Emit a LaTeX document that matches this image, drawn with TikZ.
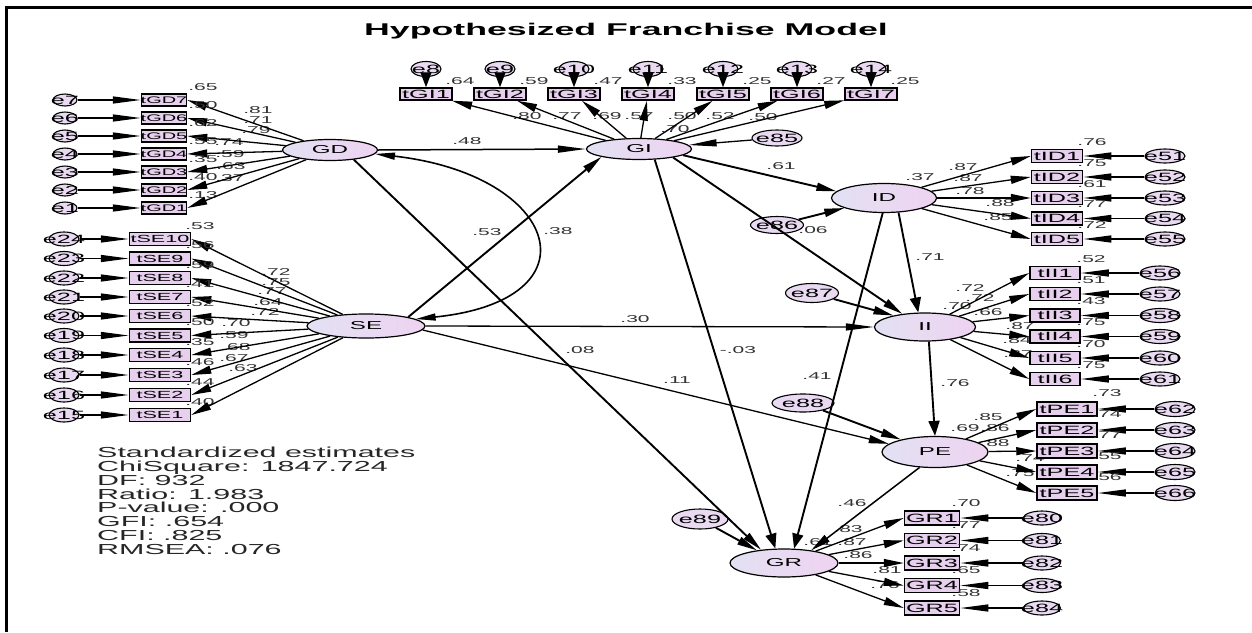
\documentclass[tikz,border=0pt]{standalone}
\usepackage{fontspec}
\setmainfont{Liberation Sans}[FakeStretch=2.1]
\usetikzlibrary{shapes.geometric,arrows.meta}
\newcommand\ztxt[1]{\raisebox{-0.36em}[0pt][0pt]{\makebox[0pt]{#1}}}
\definecolor{lavL}{HTML}{E3E1F3}
\definecolor{lavR}{HTML}{EED3F1}
\definecolor{boxfill}{HTML}{E7D0EE}
\definecolor{errfill}{HTML}{E9DAF2}
\definecolor{labc}{HTML}{333333}
\begin{document}
\begin{tikzpicture}[x=1pt,y=-1pt,
  lat/.style={ellipse, draw, line width=1.2pt, inner sep=0pt, left color=lavL, right color=lavR, font=\fontsize{11.5}{11.5}\selectfont},
  ind/.style={rectangle, draw, line width=1.5pt, fill=boxfill, inner sep=0pt, font=\fontsize{12}{12}\selectfont},
  err/.style={ellipse, draw, line width=1.1pt, fill=errfill, inner sep=0pt, font=\fontsize{12}{12}\selectfont},
  lab/.style={inner sep=0pt, text=labc, font=\fontsize{10}{10}\selectfont},
  a/.style={line width=1.3pt, -{Triangle[length=20pt,width=8pt]}},
  ah/.style={line width=1.3pt, -{Triangle[length=28pt,width=7pt]}},
  av/.style={line width=1.3pt, -{Triangle[length=15pt,width=11pt]}},
  strong/.style={line width=1.9pt}
]
\useasboundingbox (0,0) rectangle (1252,632);
\draw[line width=3.3pt] (6.7,632) -- (6.7,7.7) -- (1252,7.7);

\node[font=\bfseries\fontsize{17}{17}\selectfont] (title) at (626,31) {Hypothesized Franchise Model};

% ---------- path labels (drawn first) ----------
\node[lab] (l1) at (467,141) {.48};
\node[lab] (l2) at (487,232) {.53};
\node[lab] (l3) at (558,231) {.38};
\node[lab] (l4) at (781,166) {.61};
\node[lab] (l5) at (813,230) {.06};
\node[lab] (l6) at (635,319) {.30};
\node[lab] (l7) at (677,380) {.11};
\node[lab] (l8) at (580,350) {.08};
\node[lab] (l9) at (738,350) {-.03};
\node[lab] (l10) at (930,257) {.71};
\node[lab] (l11) at (817,376) {.41};
\node[lab] (l12) at (955,383) {.76};
\node[lab] (l13) at (852,503) {.46};
% squared multiple correlations of latents
\node[lab] (sGI) at (675,129) {.70};
\node[lab] (sID) at (920,177) {.37};
\node[lab] (sII) at (957,306) {.70};
\node[lab] (sPE) at (965,428) {.69};
\node[lab] (sGR) at (818,542) {.61};
% loading labels GD
\foreach \xx/\yy/\vv [count=\k] in {258/110/.81, 258/120/.71, 256/130/.79, 229/142/.74, 230/154/.59, 231/166/.63, 230/178/.37}
  \node[lab] (lGD\k) at (\xx,\yy) {\vv};
% loading labels SE
\foreach \xx/\yy/\vv [count=\k] in {276/272/.72, 276/282/.75, 272/291/.77, 268/302/.64, 265/312/.72, 236/323/.70, 234/335/.59, 236/347/.68, 234/358/.67, 243/368/.63}
  \node[lab] (lSE\k) at (\xx,\yy) {\vv};
% loading labels GI
\foreach \xx/\yy/\vv [count=\k] in {527/116/.80, 567/116/.77, 639/116/.57, 607/116/.69, 682/116/.50, 720/116/.52, 763/117/.50}
  \node[lab] (lGI\k) at (\xx,\yy) {\vv};
% loading labels ID
\foreach \xx/\yy/\vv [count=\k] in {963/167/.87, 968/178/.87, 970/191/.78, 1000/203/.88, 998/217/.85}
  \node[lab] (lID\k) at (\xx,\yy) {\vv};
% loading labels II
\foreach \xx/\yy/\vv [count=\k] in {970/288/.72, 980/298/.72, 988/312/.66, 1020/326/.87, 1017/340/.84, 1018/354/.87}
  \node[lab] (lII\k) at (\xx,\yy) {\vv};
% loading labels PE
\foreach \xx/\yy/\vv [count=\k] in {988/417/.85, 995/428/.86, 995/443/.88, 1030/458/.74, 1020/473/.75}
  \node[lab] (lPE\k) at (\xx,\yy) {\vv};
% loading labels GR
\foreach \xx/\yy/\vv [count=\k] in {848/529/.83, 852/542/.87, 858/555/.86, 887/570/.81, 885/585/.76}
  \node[lab] (lGR\k) at (\xx,\yy) {\vv};

% ---------- latent variables ----------
\node[lat, minimum width=95pt, minimum height=21pt] (GD) at (330,150) {GD};
\node[lat, minimum width=118pt, minimum height=24pt] (SE) at (366,326) {SE};
\node[lat, minimum width=105pt, minimum height=21pt] (GI) at (639,149) {GI};
\node[lat, minimum width=105pt, minimum height=29pt] (ID) at (884,198) {ID};
\node[lat, minimum width=101pt, minimum height=28pt] (II) at (925,327) {II};
\node[lat, minimum width=106pt, minimum height=31pt] (PE) at (935,452) {PE};
\node[lat, minimum width=108pt, minimum height=28pt] (GR) at (784,563) {GR};

% structural disturbances
\node[err, minimum width=50pt, minimum height=16pt] (e85) at (777,138) {\ztxt{e85}};
\node[err, minimum width=53pt, minimum height=17pt] (e86) at (777,225) {\ztxt{e86}};
\node[err, minimum width=53pt, minimum height=19pt] (e87) at (812,293) {\ztxt{e87}};
\node[err, minimum width=62pt, minimum height=18pt] (e88) at (803,403) {\ztxt{e88}};
\node[err, minimum width=56pt, minimum height=20pt] (e89) at (700,519) {\ztxt{e89}};

% ---------- GD indicators ----------
\foreach \nn/\yy/\rv in {7/100/.65, 6/118/.50, 5/136/.62, 4/154/.55, 3/172/.35, 2/190/.40, 1/208/.13} {
  \node[lab] (rGD\nn) at (203,{\yy-13}) {\rv};
  \node[ind, minimum width=45pt, minimum height=12pt, font=\fontsize{9.5}{9.5}\selectfont] (tGD\nn) at (164,\yy) {\ztxt{tGD\nn}};
  \node[err, minimum width=24pt, minimum height=12pt] (e\nn) at (65,\yy) {\ztxt{e\nn}};
  \draw[ah] (e\nn) -- (tGD\nn);
  \draw[a] (GD) -- (tGD\nn.east);
}

% ---------- SE indicators ----------
\foreach \nn/\ee/\yy/\rv in {10/24/239/.53, 9/23/258.5/.56, 8/22/278/.59, 7/21/297/.41, 6/20/316/.52, 5/19/335.5/.50, 4/18/355/.35, 3/17/375/.46, 2/16/395/.44, 1/15/415/.40} {
  \node[lab] (rSE\nn) at (200,{\yy-13}) {\rv};
  \node[ind, minimum width=61pt, minimum height=13pt, font=\fontsize{10.3}{10.3}\selectfont] (tSE\nn) at (160,\yy) {\ztxt{tSE\nn}};
  \node[err, minimum width=30pt, minimum height=14pt] (e\ee) at (64,\yy) {\ztxt{e\ee}};
  \draw[ah] (e\ee) -- (tSE\nn);
  \draw[a] (SE) -- (tSE\nn.east);
}

% ---------- GI indicators ----------
\foreach \nn/\xx/\ee/\rv in {1/426/8/.64, 2/500/9/.59, 3/574/10/.47, 4/648/11/.33, 5/723/12/.25, 6/797/13/.27, 7/871/14/.25} {
  \node[lab] (rGI\nn) at ({\xx+34},81) {\rv};
  \node[ind, minimum width=52pt, minimum height=12pt] (tGI\nn) at (\xx,94) {\ztxt{tGI\nn}};
  \node[err, minimum width=30pt, minimum height=15pt] (e\ee) at (\xx,69) {\ztxt{e\ee}};
  \draw[av] (e\ee) -- (tGI\nn);
  \draw[a] (GI) -- (tGI\nn);
}

% ---------- ID indicators ----------
\foreach \nn/\yy/\ee/\rv in {1/156/51/.76, 2/177/52/.75, 3/198/53/.61, 4/218.5/54/.77, 5/239/55/.72} {
  \node[lab] (rID\nn) at (1092,{\yy-14}) {\rv};
  \node[ind, minimum width=51pt, minimum height=13pt] (tID\nn) at (1057,\yy) {\ztxt{tID\nn}};
  \node[err, minimum width=40pt, minimum height=14pt] (e\ee) at (1165,\yy) {\ztxt{e\ee}};
  \draw[ah] (e\ee) -- (tID\nn.east);
  \draw[a] (ID) -- (tID\nn.west);
}

% ---------- II indicators ----------
\foreach \nn/\yy/\ee/\rv in {1/273/56/.52, 2/294/57/.51, 3/315.5/58/.43, 4/336.5/59/.75, 5/358/60/.70, 6/379/61/.75} {
  \node[lab] (rII\nn) at (1091,{\yy-14}) {\rv};
  \node[ind, minimum width=50pt, minimum height=13pt] (tII\nn) at (1055,\yy) {\ztxt{tII\nn}};
  \node[err, minimum width=40pt, minimum height=14pt] (e\ee) at (1160,\yy) {\ztxt{e\ee}};
  \draw[ah] (e\ee) -- (tII\nn.east);
  \draw[a] (II) -- (tII\nn.west);
}

% ---------- PE indicators ----------
\foreach \nn/\yy/\ee/\rv in {1/409/62/.73, 2/430/63/.74, 3/451/64/.77, 4/472/65/.55, 5/493/66/.56} {
  \node[lab] (rPE\nn) at (1107,{\yy-16}) {\rv};
  \node[ind, minimum width=60pt, minimum height=14pt] (tPE\nn) at (1067,\yy) {\ztxt{tPE\nn}};
  \node[err, minimum width=40pt, minimum height=15pt] (e\ee) at (1175,\yy) {\ztxt{e\ee}};
  \draw[ah] (e\ee) -- (tPE\nn.east);
  \draw[a] (PE) -- (tPE\nn.west);
}

% ---------- GR indicators ----------
\foreach \nn/\yy/\ee/\rv in {1/518/80/.70, 2/540.5/81/.77, 3/563/82/.74, 4/585.5/83/.65, 5/608/84/.58} {
  \node[lab] (rGR\nn) at (966,{\yy-15}) {\rv};
  \node[ind, minimum width=55pt, minimum height=14pt] (GR\nn) at (932,\yy) {\ztxt{GR\nn}};
  \node[err, minimum width=37pt, minimum height=14pt] (e\ee) at (1042,\yy) {\ztxt{e\ee}};
  \draw[ah] (e\ee) -- (GR\nn.east);
  \draw[a] (GR) -- (GR\nn.west);
}

% ---------- structural paths ----------
\draw[ah, line width=1.5pt] (GD.east) -- (GI.west);
\draw[a, strong] (SE.north east) -- (GI.south west);
\draw[line width=1.6pt, {Triangle[length=20pt,width=7pt]}-{Triangle[length=20pt,width=7pt]}]
  (GD.-5) .. controls (560,175) and (600,300) .. (SE.8);
\draw[ah] (SE.east) -- (II.west);
\draw[a] (SE.-4) -- (PE.170);
\draw[a, strong] (GD.-22) -- (GR.150);
\draw[av, strong] (GI.-34) -- (GR.121);
\draw[a, strong] (GI.-8) -- (ID.172);
\draw[a, strong] (GI.-14) -- (II.150);
\draw[av, strong] (ID.-45) -- (II.115);
\draw[av, strong] (ID.-95) -- (GR.55);
\draw[av, strong] (II.-75) -- (PE.north);
\draw[a, line width=1.5pt] (PE.-135) -- (GR.25);
\draw[ah] (e85) -- (GI);
\draw[a, strong] (e86) -- (ID);
\draw[a, strong] (e87) -- (II.160);
\draw[a, strong] (e88) -- (PE.160);
\draw[a, strong] (e89) -- (GR.155);

% ---------- fit statistics ----------
\node[anchor=north west, inner sep=0pt, align=left, text=black!85,
      font=\fontsize{14.5}{13.8}\selectfont] (stats) at (97,447)
  {Standardized estimates\\ChiSquare: 1847.724\\DF: 932\\Ratio: 1.983\\P-value: .000\\GFI: .654\\CFI: .825\\RMSEA: .076};
\end{tikzpicture}
\end{document}
